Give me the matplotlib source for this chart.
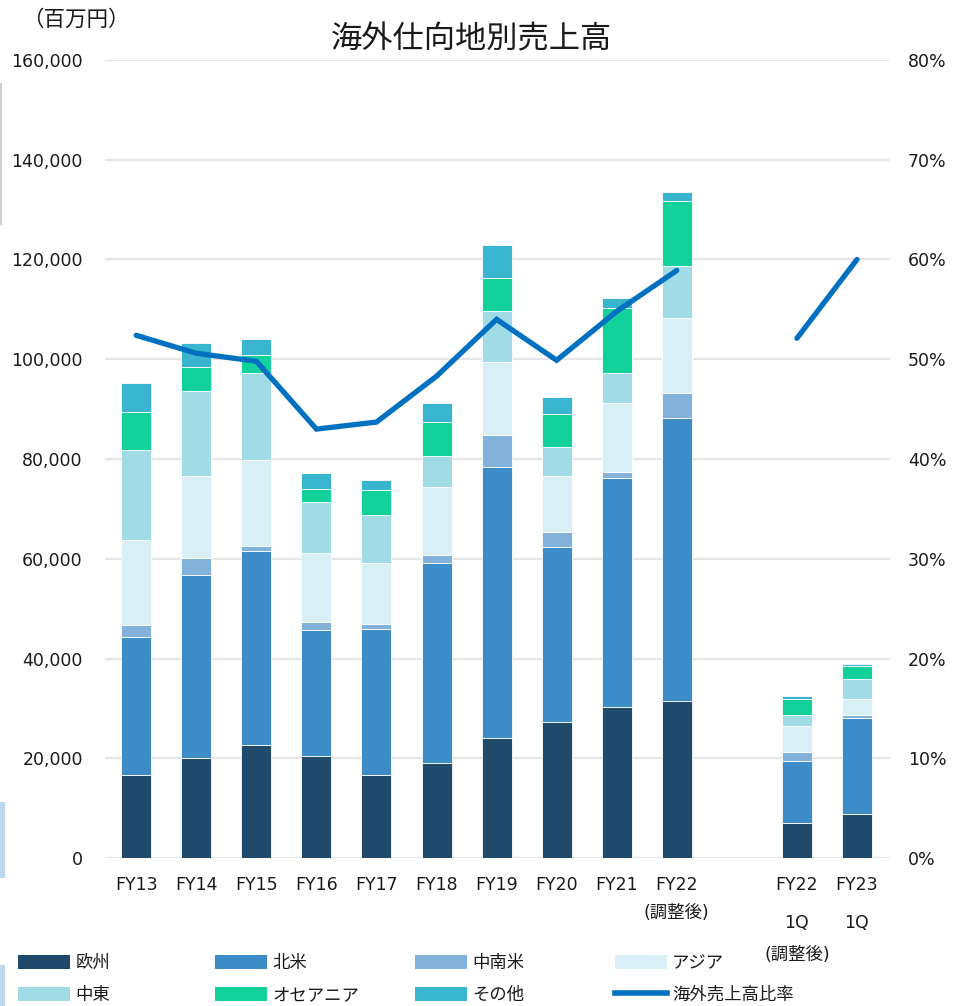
import matplotlib
matplotlib.use("Agg")
import matplotlib.pyplot as plt
from matplotlib.patches import Patch, Rectangle
from matplotlib.lines import Line2D
from matplotlib.ticker import FuncFormatter
import numpy as np

plt.rcParams['font.family'] = ['DejaVu Sans', 'Noto Sans CJK JP']

# ---------------- data ----------------
categories = ['FY13', 'FY14', 'FY15', 'FY16', 'FY17', 'FY18', 'FY19', 'FY20',
              'FY21', 'FY22', 'FY22', 'FY23']
positions = [0, 1, 2, 3, 4, 5, 6, 7, 8, 9, 11, 12]

series_names = ['欧州', '北米', '中南米', 'アジア', '中東', 'オセアニア', 'その他']
europe      = [16600, 20000, 22600, 20500, 16600, 19000, 24100, 27300, 30300, 31400, 7000, 8800]
n_america   = [27800, 36800, 39000, 25300, 29400, 40200, 54200, 35000, 45900, 56900, 12500, 19300]
cs_america  = [2300, 3400, 1000, 1600, 900, 1500, 6600, 3000, 1100, 4900, 1800, 500]
asia        = [17100, 16400, 17100, 13700, 12200, 13700, 14600, 11200, 14000, 15100, 5200, 3200]
middle_east = [18000, 17100, 17600, 10300, 9700, 6300, 10200, 5900, 5900, 10400, 2200, 4100]
oceania     = [7600, 4700, 3500, 2500, 5000, 6700, 6600, 6600, 13100, 13000, 3100, 2600]
others      = [5800, 4800, 3300, 3200, 2000, 3800, 6700, 3400, 2000, 1800, 700, 300]

ratio_name = '海外売上高比率'
overseas_ratio = [0.524, 0.506, 0.498, 0.430, 0.437, 0.483, 0.540, 0.499, 0.548, 0.589, 0.521, 0.600]

colors = ['#1F4A6B', '#3D8BC7', '#82B2DA', '#D7EFF5', '#A0DBE6', '#12D19A', '#3AB5D0']
line_color = '#0070C0'
text_color = '#1a1a1a'

# ---------------- figure ----------------
fig = plt.figure(figsize=(9.55, 10.06), dpi=100)
ax = fig.add_axes([105/955, 1 - 858/1006, (890 - 105)/955, (858 - 60)/1006])
ax2 = ax.twinx()

all_series = [europe, n_america, cs_america, asia, middle_east, oceania, others]
bottom = np.zeros(len(positions))
for name, vals, col in zip(series_names, all_series, colors):
    ax.bar(positions, vals, width=0.5, bottom=bottom, color=col,
           edgecolor='white', linewidth=0.6, zorder=3, label=name)
    bottom += np.array(vals)

# line (two separate segments)
ax2.plot(positions[:10], overseas_ratio[:10], color=line_color, lw=3.8,
         solid_capstyle='round', solid_joinstyle='miter', zorder=5)
ax2.plot(positions[10:], overseas_ratio[10:], color=line_color, lw=3.8,
         solid_capstyle='round', zorder=5)

ax.set_xlim(-0.52, 12.55)
ax.set_ylim(0, 160000)
ax2.set_ylim(0, 0.8)
ax.set_yticks(np.arange(0, 160001, 20000))
ax2.set_yticks(np.arange(0, 0.81, 0.1))
ax.yaxis.set_major_formatter(FuncFormatter(lambda v, p: f'{int(v):,}'))
ax2.yaxis.set_major_formatter(FuncFormatter(lambda v, p: f'{v*100:.0f}%'))

ax.set_xticks(positions)
ax.set_xticklabels(categories)

for a in (ax, ax2):
    for s in a.spines.values():
        s.set_visible(False)
ax.grid(axis='y', color='#E6E6E6', lw=1.6, zorder=0)
ax.set_axisbelow(True)
ax.tick_params(axis='y', length=0, pad=16, labelsize=12.5, labelcolor=text_color)
ax.tick_params(axis='x', length=0, pad=13, labelsize=12.5, labelcolor=text_color)
ax2.tick_params(axis='y', length=0, pad=13, labelsize=12.5, labelcolor=text_color)

# extra x-label lines
xt = ('data', 'axes fraction')
def sub_label(x, text, dy_px):
    ax.annotate(text, xy=(x, 0), xycoords=xt, xytext=(0, -dy_px * 0.72),
                textcoords='offset points', ha='center', va='center',
                fontsize=12.5, color=text_color, annotation_clip=False)

sub_label(9, '(調整後)', 55)
sub_label(11, '1Q', 65)
sub_label(12, '1Q', 65)
sub_label(11, '(調整後)', 97)

# title and unit
fig.text(471/955, 1 - 40/1006, '海外仕向地別売上高', ha='center', va='center',
         fontsize=22.5, color=text_color)
fig.text(76/955, 1 - 20/1006, '（百万円）', ha='center', va='center',
         fontsize=15.5, color=text_color)

# legend: four columns of two entries
handles = [Patch(facecolor=c, edgecolor='none') for c in colors]
handles.append(Line2D([], [], color=line_color, lw=4))
labels = series_names + [ratio_name]
col_x = [18, 215, 415, 615]
pairs = [(0, 4), (1, 5), (2, 6), (3, 7)]
for cx, (i, j) in zip(col_x, pairs):
    fig.legend([handles[i], handles[j]], [labels[i], labels[j]],
               loc='upper left', bbox_to_anchor=(cx/955, 1 - 954/1006),
               frameon=False, fontsize=12.5, handlelength=3.0, handleheight=0.92,
               handletextpad=0.3, labelspacing=0.8, borderpad=0, borderaxespad=0,
               labelcolor=text_color)

# slide-crop artefacts at left edge
fig.add_artist(Rectangle((0, 1 - 878/1006), 5/955, 76/1006, transform=fig.transFigure,
                         facecolor='#BDD7EE', edgecolor='none'))
fig.add_artist(Rectangle((0, 0), 5/955, 41/1006, transform=fig.transFigure,
                         facecolor='#BDD7EE', edgecolor='none'))
fig.add_artist(Rectangle((0, 1 - 225/1006), 1.5/955, 142/1006, transform=fig.transFigure,
                         facecolor='#D0D0D0', edgecolor='none'))

fig.savefig('out.png', dpi=100)
